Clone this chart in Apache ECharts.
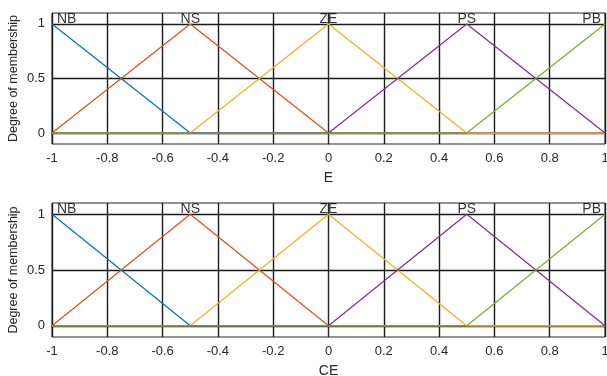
<!DOCTYPE html>
<html>
<head>
<meta charset="utf-8">
<script src="https://cdn.jsdelivr.net/npm/echarts@6/dist/echarts.min.js"></script>
<style>
  html, body { margin: 0; padding: 0; background: #fff; }
  #main { width: 607px; height: 376px; }
</style>
</head>
<body>
<div id="main"></div>
<script>
// breakpoints of the triangular membership functions
const xPts = [-1, -0.5, 0, 0.5, 1];
const nb = [1, 0, 0, 0, 0];
const ns = [0, 1, 0, 0, 0];
const ze = [0, 0, 1, 0, 0];
const ps = [0, 0, 0, 1, 0];
const pb = [0, 0, 0, 0, 1];

const mfNames = ["NB", "NS", "ZE", "PS", "PB"];
const mfPeaks = [-1, -0.5, 0, 0.5, 1];
const mfColors = ["#0072BD", "#D95319", "#EDB120", "#7E2F8E", "#77AC30"];
const mfValues = [nb, ns, ze, ps, pb];

const yTicks = [0, 0.5, 1];
const axisNames = ["E", "CE"];

const textColor = "#262626";
const font = "Liberation Sans, Arial, sans-serif";

const myChart = echarts.init(document.getElementById("main"), null, { renderer: "canvas" });

const grids = [
  { left: 52, top: 13, width: 553, height: 131 },
  { left: 52, top: 203, width: 553, height: 134 },
];

const xAxes = [];
const yAxes = [];
const series = [];

grids.forEach((g, gi) => {
  g.show = true;
  g.borderColor = textColor;
  g.borderWidth = 1;
  g.backgroundColor = "#fff";
  g.outerBoundsMode = "none";
  g.containLabel = false;

  xAxes.push({
    type: "value",
    gridIndex: gi,
    min: -1,
    max: 1,
    interval: 0.2,
    name: axisNames[gi],
    nameLocation: "middle",
    nameGap: 27,
    nameMoveOverlap: false,
    nameTextStyle: { color: textColor, fontSize: 14, fontFamily: font },
    axisLine: { show: true, lineStyle: { color: textColor } },
    axisTick: { show: false },
    axisLabel: {
      color: textColor,
      fontSize: 13,
      fontFamily: font,
      margin: 8,
      formatter: (v) => String(Math.round(v * 10) / 10),
    },
    splitLine: { show: true, lineStyle: { color: "#1a1a1a", width: 1.4 } },
  });

  yAxes.push({
    type: "value",
    gridIndex: gi,
    min: -0.1,
    max: 1.1,
    name: "Degree of membership",
    nameLocation: "middle",
    nameGap: 32,
    nameMoveOverlap: false,
    nameTextStyle: { color: textColor, fontSize: 12.5, fontFamily: font },
    axisLine: { show: true, lineStyle: { color: textColor } },
    axisTick: { show: false, customValues: yTicks },
    axisLabel: {
      color: textColor,
      fontSize: 13,
      fontFamily: font,
      margin: 7,
      customValues: yTicks,
    },
    splitLine: { show: true, lineStyle: { color: "#1a1a1a", width: 1.4 } },
  });

  // membership function lines
  mfValues.forEach((vals, i) => {
    series.push({
      type: "line",
      xAxisIndex: gi,
      yAxisIndex: gi,
      data: xPts.map((x, k) => [x, vals[k]]),
      symbol: "none",
      lineStyle: { color: mfColors[i], width: 1.2 },
      animation: false,
      silent: true,
    });
  });

  // MF names above the peaks
  series.push({
    type: "scatter",
    xAxisIndex: gi,
    yAxisIndex: gi,
    symbolSize: 0,
    z: 5,
    data: mfPeaks.map((x, i) => ({
      value: [x, 1],
      label: {
        align: i === 0 ? "left" : i === mfPeaks.length - 1 ? "right" : "center",
        offset: i === 0 ? [5, 0] : i === mfPeaks.length - 1 ? [-4, 0] : [0, 0],
      },
    })),
    label: {
      show: true,
      position: "top",
      distance: -2,
      color: "#000",
      fontSize: 14,
      fontFamily: font,
      formatter: (p) => mfNames[p.dataIndex],
    },
    animation: false,
    silent: true,
  });
});

myChart.setOption({
  backgroundColor: "#fff",
  animation: false,
  grid: grids,
  xAxis: xAxes,
  yAxis: yAxes,
  series: series,
});
</script>
</body>
</html>
